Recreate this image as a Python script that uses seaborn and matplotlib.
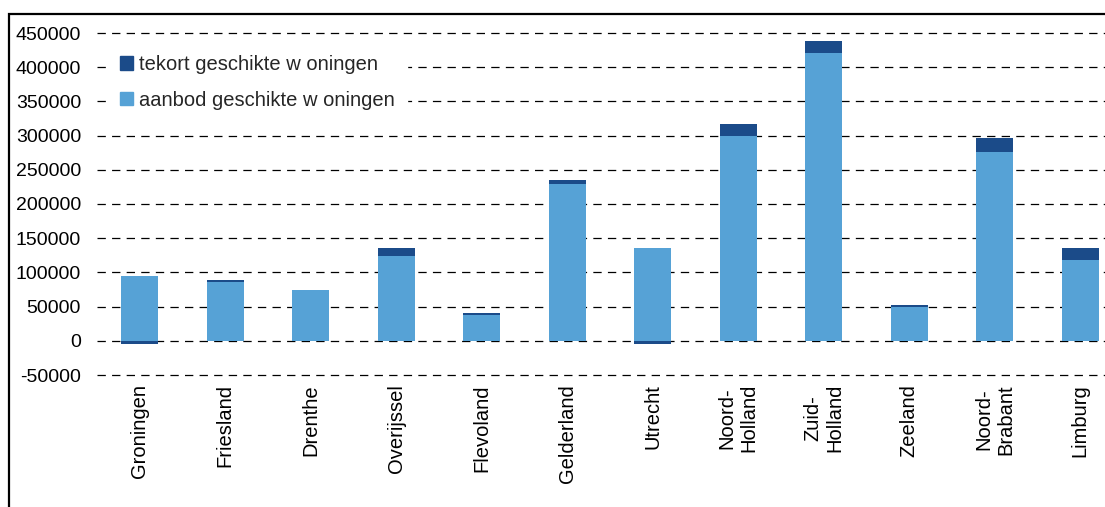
import numpy as np
import matplotlib
matplotlib.use('Agg')
import matplotlib.pyplot as plt
import matplotlib.patches as mpatches
import seaborn as sns

# Data
provincies = ['Groningen', 'Friesland', 'Drenthe', 'Overijssel', 'Flevoland',
              'Gelderland', 'Utrecht', 'Noord-\nHolland', 'Zuid-\nHolland',
              'Zeeland', 'Noord-\nBrabant', 'Limburg']
aanbod = [95000, 86500, 74500, 124000, 38000, 229500, 136000, 300000,
          421000, 50000, 276000, 118500]
tekort = [-5000, 2500, 0, 12000, 3000, 6000, -5000, 17000, 17500,
          2500, 21000, 17500]
y_ticks = [-50000, 0, 50000, 100000, 150000, 200000, 250000, 300000,
           350000, 400000, 450000]

kleur_aanbod = '#56A2D6'
kleur_tekort = '#1B4B89'

sns.set_style('white')
plt.rcParams['font.family'] = ['Liberation Sans', 'DejaVu Sans']
plt.rcParams['lines.scale_dashes'] = False

W, H = 1105, 507
fig = plt.figure(figsize=(W / 100, H / 100), dpi=100)

# plotgebied in pixels: links 97, boven 33, onder 375, rechts voorbij de rand
x0, x1, ytop, ybot = 97, 1123, 33, 375
ax = fig.add_axes([x0 / W, 1 - ybot / H, (x1 - x0) / W, (ybot - ytop) / H])

pos = np.arange(len(provincies))
breedte = 0.43

sns.barplot(x=pos, y=aanbod, color=kleur_aanbod, width=breedte,
            saturation=1, ax=ax, native_scale=True, linewidth=0, zorder=2)

# negatieve tekorten worden onder de nul gestapeld (zoals in Excel)
aanbod_arr = np.array(aanbod)
tekort_arr = np.array(tekort)
bodem = np.where(tekort_arr >= 0, aanbod_arr, 0)
ax.bar(pos, tekort_arr, bottom=bodem, width=breedte, color=kleur_tekort,
       zorder=3, linewidth=0)

ax.set_xlim(-0.5, len(provincies) - 0.5)
ax.set_ylim(-50000, 450000)
ax.set_yticks(y_ticks)
ax.set_yticklabels([str(v) for v in y_ticks])
ax.set_xticks(pos)
ax.set_xticklabels(provincies, rotation=90, va='top', ha='center',
                   multialignment='center')
ax.tick_params(axis='both', length=0, colors='black')
ax.tick_params(axis='y', pad=11.5, labelsize=14)
ax.tick_params(axis='x', pad=6.5, labelsize=14.5)

ax.yaxis.grid(True, color='black', linewidth=0.9,
              linestyle=(0, (6, 4.5)), zorder=1)
for gl in ax.get_ygridlines():
    gl.set_clip_on(False)
ax.xaxis.grid(False)
ax.set_axisbelow(True)
for s in ax.spines.values():
    s.set_visible(False)
ax.set_xlabel('')
ax.set_ylabel('')

# legenda (witte achtergrond onderbreekt de rasterlijnen)
handles = [mpatches.Patch(color=kleur_tekort, label='tekort geschikte w oningen'),
           mpatches.Patch(color=kleur_aanbod, label='aanbod geschikte w oningen')]
fs = 14.5
pad_px = 0.6 * fs * 100 / 72
leg = fig.legend(handles=handles, loc='upper left',
                 bbox_to_anchor=((120 - pad_px) / W, 1 - (55 - pad_px) / H),
                 frameon=True, fancybox=False, facecolor='white',
                 edgecolor='white', framealpha=1,
                 fontsize=fs, borderpad=0.6, borderaxespad=0,
                 handlelength=0.65, handleheight=0.65, handletextpad=0.3,
                 labelspacing=0.82)

# kader rond de figuur (rechts en onder buiten beeld)
fig.patches.append(mpatches.Rectangle((9 / W, -0.2), 1.2, 1.2 - 14 / H,
                                      transform=fig.transFigure, fill=False,
                                      edgecolor='black', linewidth=1.6))

fig.savefig('out.png', dpi=100)
